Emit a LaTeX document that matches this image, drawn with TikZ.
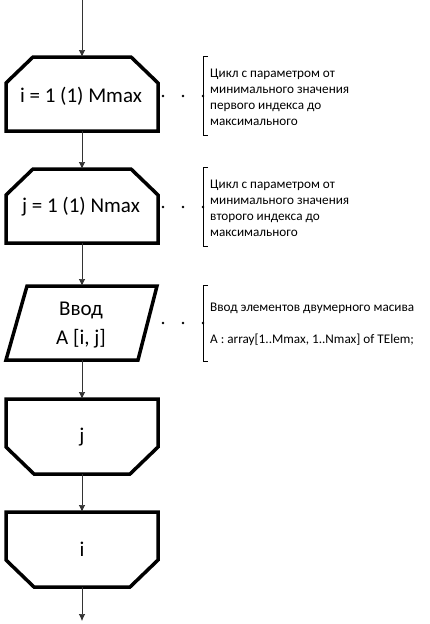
\documentclass[tikz,border=0pt]{standalone}
\usepackage{fontspec}
\setmainfont{Carlito}
\usetikzlibrary{arrows.meta}
\tikzset{block/.style={line width=3.5pt, line join=miter},
  flow/.style={-{Latex[length=7pt,width=6.5pt]}, line width=0.7pt, draw=black!80},
  note/.style={anchor=west, align=left, inner sep=0pt, font=\fontsize{13.2}{16}\selectfont},
  big/.style={font=\fontsize{21}{29}\selectfont, align=center}}

\begin{document}
\begin{tikzpicture}[x=1pt,y=-1pt]
\useasboundingbox (0,0) rectangle (430,624);

\coordinate (start) at (82,0);
\coordinate (finish) at (82,621);

% loop begin blocks
\foreach \ya/\yb/\nm in {57/131/ii, 169/243/jj}
  {
    \draw[block] (6,\ya+26) -- (33,\ya) -- (131,\ya) -- (158,\ya+26) -- (158,\yb) -- (6,\yb) -- cycle;
    \coordinate (\nm-top) at (82,\ya);
    \coordinate (\nm-bot) at (82,\yb);
  }
\node[big] (ii) at (81,96) {i = 1 (1) Mmax};
\node[big] (jj) at (81,207) {j = 1 (1) Nmax};

% input
\draw[block] (27,286) -- (157,286) -- (138,360) -- (6,360) -- cycle;
\coordinate (in-top) at (82,286);
\coordinate (in-bot) at (82,360);
\node[big] (in) at (81,325) {Ввод\\A [i, j]};

% loop end blocks
\foreach \ya/\yb/\nm in {399/474/je, 512/587/ie}
  {
    \draw[block] (6,\ya) -- (158,\ya) -- (158,\yb-27) -- (130,\yb) -- (34,\yb) -- (6,\yb-27) -- cycle;
    \coordinate (\nm-top) at (82,\ya);
    \coordinate (\nm-bot) at (82,\yb);
  }
\node[big] (je) at (82,437) {j};
\node[big] (ie) at (82,549) {i};

\draw[flow] (start) -- (ii-top);
\draw[flow] (ii-bot) -- (jj-top);
\draw[flow] (jj-bot) -- (in-top);
\draw[flow] (in-bot) -- (je-top);
\draw[flow] (je-bot) -- (ie-top);
\draw[flow] (ie-bot) -- (finish);

% comments
\foreach \yc/\ya/\yb in {96/56/135, 207/167/246, 323/285/361}
  {
    \draw[line width=0.6pt] (208,\ya) -- (203,\ya) -- (203,\yb) -- (208,\yb);
    \foreach \xc in {163,183,203}
      \fill (\xc,\yc) circle (1.4pt);
  }

\node[note] (c1) at (210,97) {Цикл с параметром от\\минимального значения\\первого индекса до\\максимального};
\node[note] (c2) at (210,208) {Цикл с параметром от\\минимального значения\\второго индекса до\\максимального};
\node[note] (c3) at (210,308) {Ввод элементов двумерного масива};
\node[note] (c4) at (210,340) {A : array[1..Mmax, 1..Nmax] of TElem;};

\end{tikzpicture}
\end{document}
